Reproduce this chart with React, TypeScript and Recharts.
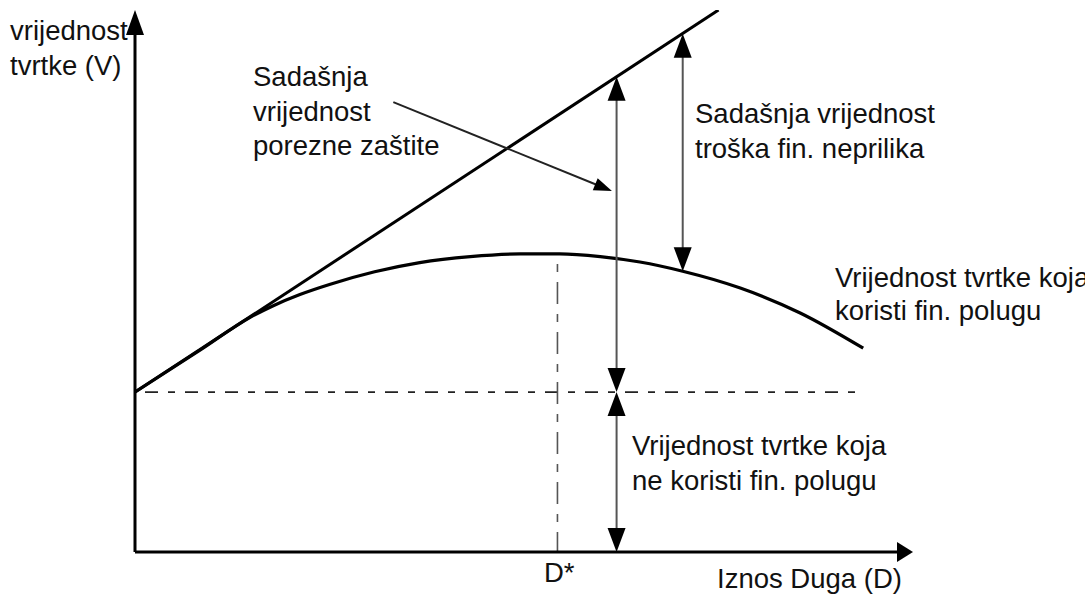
import React from 'react';
import { ComposedChart, Line, XAxis, YAxis, ReferenceLine } from 'recharts';

// ======================
// DATA (debt level on x, firm value on y, both 0..100)
// ======================
const debtLevels = [0, 8.4, 14.8, 17.7, 21.2, 25.1, 30.8, 36.6, 43.1, 49.5, 54.6, 59.8, 64.9, 70.4, 77.8, 85.5, 93.6];
const leveredValue = [29.5, 37.3, 43.3, 45.4, 47.5, 49.4, 51.7, 53.4, 54.5, 55.0, 55.0, 54.5, 53.5, 51.8, 48.7, 44.1, 37.6];

const taxShieldDebt = [0, 75];
const taxShieldValue = [29.5, 100];

const unleveredValue = 29.5;
const unleveredEnd = 92.9;
const optimalDebt = 54.3;
const optimalPeak = 55.0;

// arrow positions (debt level) and the values they span
const shieldArrowDebt = 61.9;
const shieldArrowTop = 87.7;
const distressArrowDebt = 70.4;
const distressArrowTop = 95.6;
const distressArrowBottom = 51.8;
const pointerFrom = { x: 33.2, y: 83.0 };
const pointerTo = { x: 61.3, y: 66.6 };

const curveData = debtLevels.map((x, i) => ({ x, y: leveredValue[i] }));
const lineData = taxShieldDebt.map((x, i) => ({ x, y: taxShieldValue[i] }));

const FONT = '"Liberation Sans", Arial, sans-serif';

// ======================
// ARROW SHAPE
// ======================
interface ArrowOpts {
  start?: boolean;
  end?: boolean;
  len: number;
  half: number;
  color: string;
  width: number;
}

function arrowShape({ start, end, len, half, color, width }: ArrowOpts) {
  return (props: any) => {
    const { x1, y1, x2, y2 } = props;
    if ([x1, y1, x2, y2].some((v) => v == null || isNaN(v))) return <g />;
    const dx = x2 - x1;
    const dy = y2 - y1;
    const d = Math.hypot(dx, dy) || 1;
    const ux = dx / d;
    const uy = dy / d;
    const head = (tx: number, ty: number, vx: number, vy: number) => {
      const bx = tx - vx * len;
      const by = ty - vy * len;
      const px = -vy * half;
      const py = vx * half;
      return (
        <polygon
          points={`${tx},${ty} ${bx + px},${by + py} ${bx - px},${by - py}`}
          fill="#000"
        />
      );
    };
    const sx = start ? x1 + ux * len * 0.7 : x1;
    const sy = start ? y1 + uy * len * 0.7 : y1;
    const ex = end ? x2 - ux * len * 0.7 : x2;
    const ey = end ? y2 - uy * len * 0.7 : y2;
    return (
      <g>
        <line x1={sx} y1={sy} x2={ex} y2={ey} stroke={color} strokeWidth={width} />
        {start && head(x1, y1, -ux, -uy)}
        {end && head(x2, y2, ux, uy)}
      </g>
    );
  };
}

const axisX = arrowShape({ end: true, len: 16, half: 10, color: '#000', width: 3 });
const axisY = arrowShape({ end: true, len: 25, half: 9, color: '#000', width: 3 });
const doubleArrow = arrowShape({ start: true, end: true, len: 24, half: 9, color: '#555', width: 2 });
const pointerArrow = arrowShape({ end: true, len: 18, half: 6.5, color: '#222', width: 2 });

// ======================
// TEXT
// ======================
const labels = [
  { x: 10, y: 40, text: 'vrijednost' },
  { x: 10, y: 75, text: 'tvrtke (V)' },
  { x: 253, y: 86, text: 'Sadašnja' },
  { x: 253, y: 121, text: 'vrijednost' },
  { x: 253, y: 155, text: 'porezne zaštite' },
  { x: 695, y: 123, text: 'Sadašnja vrijednost' },
  { x: 695, y: 158, text: 'troška fin. neprilika' },
  { x: 835, y: 287, text: 'Vrijednost tvrtke koja' },
  { x: 835, y: 320, text: 'koristi fin. polugu' },
  { x: 632, y: 455, text: 'Vrijednost tvrtke koja' },
  { x: 632, y: 490, text: 'ne koristi fin. polugu' },
  { x: 544, y: 582, text: 'D*' },
  { x: 717, y: 588, text: 'Iznos Duga (D)' },
];

export default function App() {
  return (
    <div
      style={{
        position: 'absolute',
        left: 0,
        top: 0,
        width: 1085,
        height: 594,
        background: '#fff',
        overflow: 'hidden',
      }}
    >
      <ComposedChart width={1085} height={594} margin={{ top: 10, right: 172, bottom: 42, left: 135 }}>
        <XAxis type="number" dataKey="x" domain={[0, 100]} allowDataOverflow hide />
        <YAxis type="number" dataKey="y" domain={[0, 100]} allowDataOverflow hide />

        {/* dashed guides */}
        <ReferenceLine
          segment={[{ x: 0, y: unleveredValue }, { x: unleveredEnd, y: unleveredValue }]}
          stroke="#222"
          strokeWidth={1.6}
          strokeDasharray="13 10 7 10"
          strokeDashoffset={30}
          ifOverflow="visible"
        />
        <ReferenceLine
          segment={[{ x: optimalDebt, y: optimalPeak }, { x: optimalDebt, y: 0 }]}
          stroke="#555"
          strokeWidth={1.6}
          strokeDasharray="22 10 8 10"
          strokeDashoffset={22}
          ifOverflow="visible"
        />

        {/* value lines */}
        <Line
          data={lineData}
          dataKey="y"
          type="linear"
          stroke="#000"
          strokeWidth={3}
          dot={false}
          isAnimationActive={false}
        />
        <Line
          data={curveData}
          dataKey="y"
          type="monotone"
          stroke="#000"
          strokeWidth={3.2}
          dot={false}
          isAnimationActive={false}
        />

        {/* arrows */}
        <ReferenceLine
          segment={[{ x: shieldArrowDebt, y: shieldArrowTop }, { x: shieldArrowDebt, y: unleveredValue }]}
          shape={doubleArrow}
          ifOverflow="visible"
        />
        <ReferenceLine
          segment={[{ x: shieldArrowDebt, y: unleveredValue }, { x: shieldArrowDebt, y: 0 }]}
          shape={doubleArrow}
          ifOverflow="visible"
        />
        <ReferenceLine
          segment={[{ x: distressArrowDebt, y: distressArrowTop }, { x: distressArrowDebt, y: distressArrowBottom }]}
          shape={doubleArrow}
          ifOverflow="visible"
        />
        <ReferenceLine segment={[pointerFrom, pointerTo]} shape={pointerArrow} ifOverflow="visible" />

        {/* axes */}
        <ReferenceLine segment={[{ x: 0, y: 0 }, { x: 100, y: 0 }]} shape={axisX} ifOverflow="visible" />
        <ReferenceLine segment={[{ x: 0, y: 0 }, { x: 0, y: 100 }]} shape={axisY} ifOverflow="visible" />
      </ComposedChart>

      <svg
        width={1085}
        height={594}
        style={{ position: 'absolute', left: 0, top: 0, pointerEvents: 'none' }}
      >
        {labels.map((l, i) => (
          <text key={i} x={l.x} y={l.y} fontFamily={FONT} fontSize={27.5} fill="#111">
            {l.text}
          </text>
        ))}
      </svg>
    </div>
  );
}
